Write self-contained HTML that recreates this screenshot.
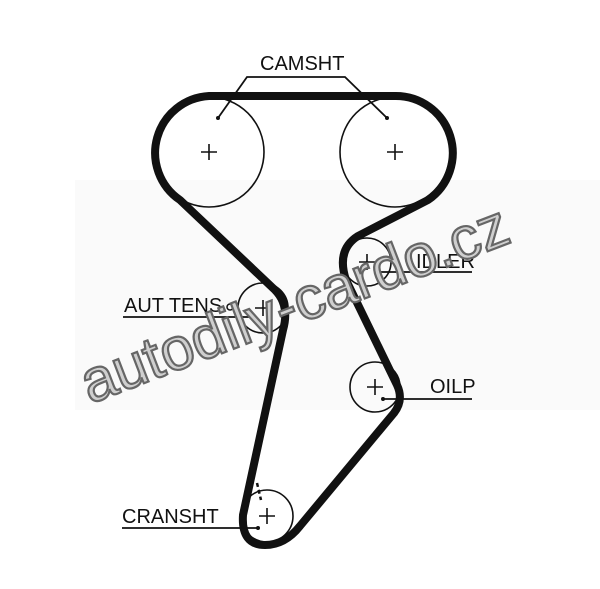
<!DOCTYPE html>
<html><head><style>
html,body{margin:0;padding:0;background:#fff;}
svg{display:block;}
text{font-family:"Liberation Sans",sans-serif;}
</style></head><body>
<svg width="600" height="589" viewBox="0 0 600 589" xmlns="http://www.w3.org/2000/svg">
<rect x="75" y="180" width="525" height="230" fill="#fafafa"/>
<g fill="none" stroke="#111" stroke-width="1.6">
<circle cx="209" cy="152" r="55"/>
<circle cx="395" cy="152" r="55"/>
<circle cx="367" cy="262" r="24"/>
<circle cx="263" cy="308" r="25"/>
<circle cx="375" cy="387" r="25"/>
<circle cx="267" cy="516" r="26"/>
</g>
<g stroke="#111" stroke-width="1.6">
<path d="M201 152h16M209 144v16M387 152h16M395 144v16M359 262h16M367 254v16M255 308h16M263 300v16M367 387h16M375 379v16M259 516h16M267 508v16"/>
</g>
<path d="M209 96 L395 96 A57 57 0 0 1 428 200 L358 236 Q336 250 346 280 L397 385 Q404 400 394 413 L300 526 Q285 545 265 545 Q241 545 243 515 L283 330 Q290 305 275 290 L180 200 A57 57 0 0 1 209 96 Z" fill="none" stroke="#111" stroke-width="8" stroke-linejoin="round"/>
<g stroke="#111" stroke-width="1.8" fill="none">
<path d="M218 118 L247 77 L345 77 L387 118"/>
<line x1="123" y1="317" x2="250" y2="317"/>
<line x1="375" y1="272" x2="472" y2="272"/>
<line x1="383" y1="399" x2="472" y2="399"/>
<line x1="122" y1="528" x2="258" y2="528"/>
<line x1="257" y1="483" x2="261" y2="500" stroke-dasharray="4 3" stroke-width="2.5"/>
</g>
<g fill="#111"><circle cx="218" cy="118" r="2"/><circle cx="387" cy="118" r="2"/><circle cx="383" cy="399" r="2"/><circle cx="258" cy="528" r="2"/></g>
<circle cx="230" cy="307" r="3" fill="none" stroke="#111" stroke-width="1.5"/>
<g font-size="20" fill="#111">
<text x="260" y="70">CAMSHT</text>
<text x="124" y="312">AUT TENS.</text>
<text x="416" y="268">IDLER</text>
<text x="430" y="393">OILP</text>
<text x="122" y="523">CRANSHT</text>
</g>
<text x="0" y="0" transform="translate(90,404) rotate(-21)" font-size="60" fill="#cfcfcf" stroke="#666" stroke-width="2.2">autodily-cardo.cz</text>
</svg>
</body></html>
